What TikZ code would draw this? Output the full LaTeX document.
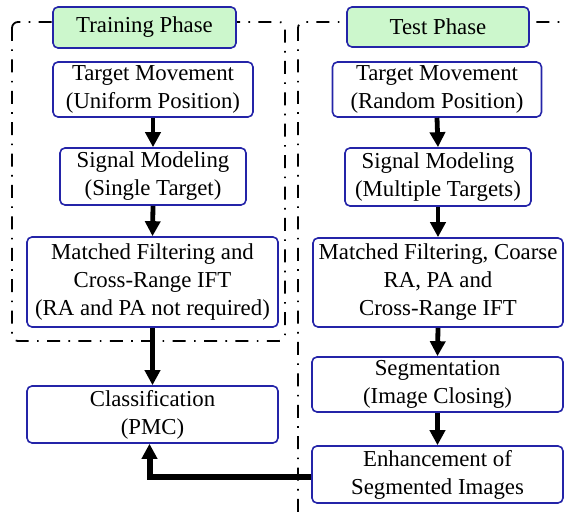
\documentclass[tikz,border=0pt]{standalone}
\usepackage{fontspec}
\setmainfont{Liberation Serif}
\usetikzlibrary{arrows.meta}

\begin{document}
\begin{tikzpicture}[
				x=0.5pt, y=-0.5pt,
				font=\fontsize{11.4}{14}\selectfont,
				>={Triangle[length=7.5pt,width=7.5pt]},
				line join=miter
				]
				% Colours
				\definecolor{phGreen}{HTML}{CCF7CC}
				\definecolor{boxBlue}{HTML}{2424A8}
				
				% Styles
				\tikzset{
					stage/.style={rectangle, rounded corners=2.5pt, draw=boxBlue, line width=0.8pt,
						fill=white, align=center, inner sep=0pt},
					phase/.style={stage, fill=phGreen},
					frame/.style={draw=black, line width=0.9pt, rounded corners=3pt,
						dash pattern=on 6.5pt off 4.2pt on 0.8pt off 4.2pt},
					flow/.style={->, draw=black, line width=2.4pt}
				}
				
				\useasboundingbox (0,0) rectangle (564,517);
				
				% ===== Dash-dot frames =====
				\draw[frame] (12,22) rectangle (285,341);
				\draw[frame] (298,22) rectangle (590,522);
				
				% ===== Training phase =====
				\node[phase, minimum width=91.5pt, minimum height=20.5pt] (TrH) at (144.5, 27.5) {Training Phase};
				\node[stage, minimum width=100pt, minimum height=27.5pt] (TrMov) at (153, 89.5) {Target Movement\\(Uniform Position)};
				\node[stage, minimum width=93pt, minimum height=28.5pt] (TrSig) at (153, 176.5) {Signal Modeling\\(Single Target)};
				\node[stage, minimum width=125.5pt, minimum height=45pt] (TrMF) at (152.5, 282) {Matched Filtering and\\Cross-Range IFT\\(RA and PA not required)};
				\node[stage, minimum width=125.5pt, minimum height=28.5pt] (Cls) at (152.5, 414.5) {Classification\\(PMC)};
				
				% ===== Test phase =====
				\node[phase, minimum width=91pt, minimum height=20pt] (TeH) at (438, 27) {Test Phase};
				\node[stage, minimum width=104.5pt, minimum height=27.5pt] (TeMov) at (437, 89.5) {Target Movement\\(Random Position)};
				\node[stage, minimum width=93pt, minimum height=29pt] (TeSig) at (438, 177) {Signal Modeling\\(Multiple Targets)};
				\node[stage, minimum width=125pt, minimum height=44.5pt] (TeMF) at (438, 282.5) {Matched Filtering, Coarse\\RA, PA and\\Cross-Range IFT};
				\node[stage, minimum width=125.5pt, minimum height=27.5pt] (Seg) at (437.5, 384.5) {Segmentation\\(Image Closing)};
				\node[stage, minimum width=125.5pt, minimum height=28.5pt] (Enh) at (437.5, 474.5) {Enhancement of\\Segmented Images};
				
				% ===== Arrows =====
				\draw[flow] (TrMov.south) -- (TrSig.north);
				\draw[flow] (TrSig.south) -- (TrMF.north);
				\draw[flow] (TrMF.south) -- (Cls.north);
				
				\draw[flow] (TeMov.south) -- (TeSig.north);
				\draw[flow] (TeSig.south) -- (TeMF.north);
				\draw[flow] (TeMF.south) -- (Seg.north);
				\draw[flow] (Seg.south) -- (Enh.north);
				
				% back to classification
				\draw[flow, line width=3pt] ([yshift=-1.5pt]Enh.west) -| ([xshift=-1.5pt]Cls.south);
				
			\end{tikzpicture}
\end{document}
